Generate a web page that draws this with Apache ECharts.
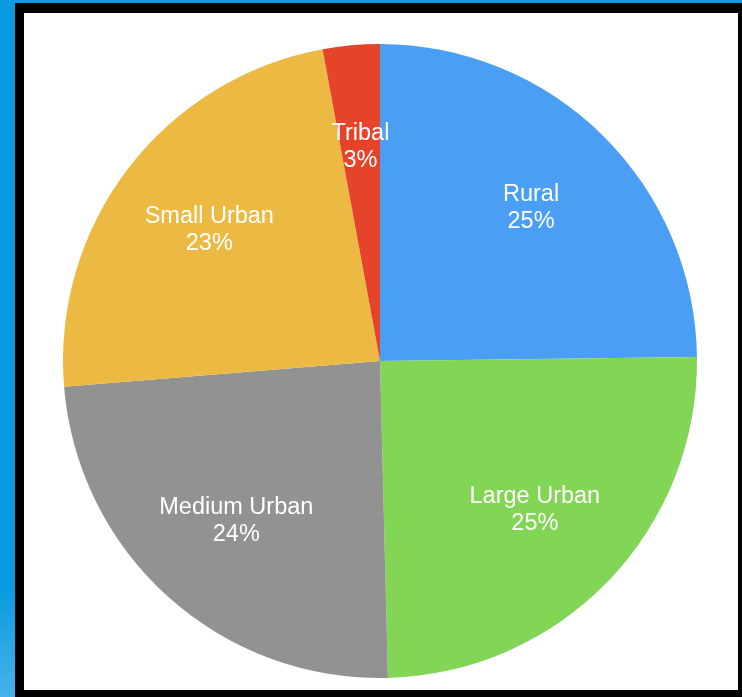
<!DOCTYPE html>
<html>
<head>
<meta charset="utf-8">
<script src="https://cdn.jsdelivr.net/npm/echarts@6/dist/echarts.min.js"></script>
<style>
  html, body { margin: 0; padding: 0; width: 742px; height: 697px; overflow: hidden; }
  body { background: linear-gradient(to bottom, #0b9be0 0%, #0b9be0 85%, #48b2ea 100%); position: relative; }
  #frame { position: absolute; left: 15px; top: 3px; width: 727px; height: 694px; background: #000; }
  #chart { position: absolute; left: 24px; top: 13px; width: 714px; height: 677px; background: #fff; }
</style>
</head>
<body>
<div id="frame"></div>
<div id="chart"></div>
<script>
const categories = ['Rural', 'Large Urban', 'Medium Urban', 'Small Urban', 'Tribal'];
const shares = [24.8, 24.8, 24.1, 23.4, 2.9];
const sliceColors = ['#4A9FF5', '#83D556', '#929292', '#ECBA42', '#E5432A'];

const chart = echarts.init(document.getElementById('chart'), null, { renderer: 'canvas' });
const pieData = categories.map((c, i) => ({ name: c, value: shares[i], itemStyle: { color: sliceColors[i] } }));
const center = [356, 348];

chart.setOption({
  animation: false,
  series: [
    {
      type: 'pie',
      center: center,
      radius: [0, 317],
      startAngle: 90,
      clockwise: true,
      silent: true,
      avoidLabelOverlap: false,
      label: { show: false },
      labelLine: { show: false },
      itemStyle: { borderWidth: 0 },
      data: pieData
    },
    {
      type: 'pie',
      center: center,
      radius: [107, 317],
      startAngle: 90,
      clockwise: true,
      silent: true,
      avoidLabelOverlap: false,
      itemStyle: { color: 'rgba(0,0,0,0)', borderWidth: 0 },
      labelLine: { show: false },
      label: {
        show: true,
        position: 'inside',
        color: '#ffffff',
        fontFamily: '"Liberation Sans", Arial, sans-serif',
        fontSize: 23.5,
        lineHeight: 27,
        align: 'center',
        formatter: p => p.name + '\n' + Math.round(p.percent) + '%'
      },
      data: categories.map((c, i) => ({ name: c, value: shares[i] }))
    }
  ]
});
</script>
</body>
</html>
